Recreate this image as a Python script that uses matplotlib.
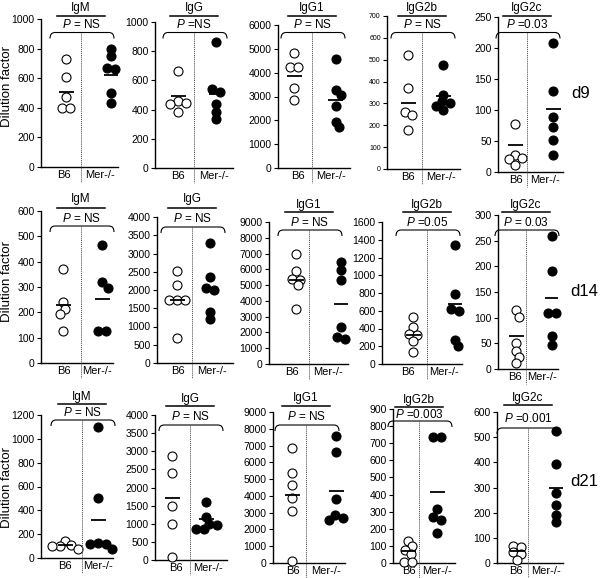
import numpy as np
import matplotlib
matplotlib.use("Agg")
import matplotlib.pyplot as plt
from matplotlib.path import Path
from matplotlib.patches import PathPatch
from matplotlib.lines import Line2D

plt.rcParams['font.family'] = ['Liberation Sans', 'DejaVu Sans']
plt.rcParams['mathtext.fontset'] = 'custom'
plt.rcParams['mathtext.it'] = 'Liberation Sans:italic'
plt.rcParams['mathtext.rm'] = 'Liberation Sans'

# ---------------- data ----------------
groups = ["B6", "Mer-/-"]
antibodies = ["IgM", "IgG", "IgG1", "IgG2b", "IgG2c"]
days = ["d9", "d14", "d21"]
ylabel = "Dilution factor"

d9_b6 = [[730, 610, 470, 400, 400],
         [664, 460, 445, 440, 386],
         [4830, 4250, 4250, 3350, 2850],
         [520, 370, 260, 245, 180],
         [78, 28, 22, 21, 12]]
d9_mer = [[800, 750, 670, 660, 500, 430],
          [864, 539, 523, 436, 386, 334],
          [4570, 3260, 3050, 2600, 1950, 1700],
          [475, 340, 310, 300, 290, 270],
          [208, 130, 88, 72, 52, 28]]
d9_mean_b6 = [510, 490, 3850, 300, 43]
d9_mean_mer = [620, 505, 2860, 335, 102]
d9_p = ["= NS", "=NS", "= NS", "= NS", "=0.03"]
d9_ymax = [1000, 1000, 6000, 700, 250]
d9_ystep = [200, 200, 1000, 100, 50]

d14_b6 = [[372, 240, 215, 195, 125],
          [2520, 2130, 1720, 1720, 1720, 680],
          [6950, 5900, 5400, 5350, 5000, 3500],
          [526, 413, 338, 323, 256, 135],
          [114, 102, 50, 36, 24, 12]]
d14_mer = [[465, 318, 298, 125, 125],
           [3300, 2360, 2045, 2000, 1410, 1200],
           [6460, 5975, 5300, 2330, 1740, 1570],
           [1338, 789, 624, 594, 267, 199],
           [260, 190, 110, 110, 65, 47]]
d14_mean_b6 = [229, 1727, 5340, 323, 65]
d14_mean_mer = [253, 2045, 3810, 676, 138]
d14_p = ["= NS", "= NS", "= NS", "=0.05", "= 0.03"]
d14_ymax = [600, 4000, 9000, 1600, 300]
d14_ystep = [100, 500, 1000, 200, 50]

d21_b6 = [[145, 105, 100, 100, 75],
          [2869, 2409, 1490, 993, 92],
          [6845, 5350, 4650, 3850, 3110, 100],
          [130, 100, 78, 55, 8, 8],
          [68, 64, 44, 35, 10]]
d21_mer = [[1100, 503, 125, 120, 120, 78],
           [1610, 1200, 1000, 970, 860, 860],
           [7580, 6600, 3810, 2850, 2690, 2590],
           [736, 736, 313, 270, 254, 176],
           [525, 394, 279, 230, 190, 164]]
d21_mean_b6 = [106, 1720, 4050, 68, 48]
d21_mean_mer = [321, 1120, 4310, 413, 299]
d21_p = ["= NS", "= NS", "= NS", "=0.003", "=0.001"]
d21_ymax = [1200, 4000, 9000, 900, 600]
d21_ystep = [200, 500, 1000, 100, 100]

rows = [
    (d9_b6, d9_mer, d9_mean_b6, d9_mean_mer, d9_p, d9_ymax, d9_ystep),
    (d14_b6, d14_mer, d14_mean_b6, d14_mean_mer, d14_p, d14_ymax, d14_ystep),
    (d21_b6, d21_mer, d21_mean_b6, d21_mean_mer, d21_p, d21_ymax, d21_ystep),
]

# ---------------- layout (pixels, origin top-left) ----------------
W, H = 600, 578
# L, R, top, bottom, divider, B6 center, Mer center
geom = [
    [(41, 118, 19, 167, 81, 66, 111), (155, 233, 22, 168, 194, 178, 216),
     (278, 350, 25, 168, 312, 294, 336), (387, 460, 16, 169, 422, 408, 443),
     (498, 563, 17, 172, 527, 515, 553)],
    [(41, 113, 211, 363, 81, 63, 102), (157, 233, 217, 363, 192, 177, 210),
     (269, 348, 222, 364, 309, 296, 341), (382, 462, 222, 364, 427, 413, 455),
     (498, 558, 215, 369, 526, 516, 552)],
    [(41, 113, 415, 558, 82, 65, 98), (155, 227, 415, 560, 190, 172, 206),
     (273, 345, 412, 563, 306, 292, 336), (393, 455, 409, 563, 419, 408, 437),
     (497, 563, 412, 563, 528, 517, 556)],
]
# title, title line, P text, bracket (y pixels)
heads = [
    [(8, 15.5, 25, 32.5)] * 5,
    [(199, 208, 218, 226), (199, 208, 218, 227), (205, 212, 222, 230),
     (205, 212, 222, 230), (205, 212, 222, 230)],
    [(397, 404, 412, 420), (399, 406, 416, 425), (398, 406, 417, 425),
     (400, 407, 415, 421), (398, 405, 418, 428)],
]
tick_fs = [[7.5, 7.5, 7.5, 5, 7.5], [7.5, 7.5, 7.5, 7.5, 7.5], [7.5, 7.5, 7.5, 7.5, 7.5]]
day_pos = [(581, 93), (584, 292), (584, 482)]
ylab_pos = [86, 282, 488]

fig = plt.figure(figsize=(W / 100, H / 100), dpi=100)


def fx(px):
    return px / W


def fy(py):
    return 1 - py / H


def swarm(ypx, dx=8.0, dy=6.5):
    placed = []
    offs = []
    for y in ypx:
        best = None
        k = 0
        while best is None:
            cands = [0.0] if k == 0 else [k * 0.5, -k * 0.5]
            for s in cands:
                if all(((s - px) / dx) ** 2 + ((y - py) / dy) ** 2 >= 1 for px, py in placed):
                    best = s
                    break
            k += 1
        placed.append((best, y))
        offs.append(best)
    # centre each horizontal row of points (points at nearly the same height)
    offs = np.array(offs, dtype=float)
    ys = np.array(ypx, dtype=float)
    order = np.argsort(ys)
    rows_ = [[order[0]]]
    for i in order[1:]:
        if ys[i] - ys[rows_[-1][-1]] < 4:
            rows_[-1].append(i)
        else:
            rows_.append([i])
    for rw in rows_:
        if len(rw) > 1:
            shift = (offs[rw].min() + offs[rw].max()) / 2
            offs[rw] -= shift
    return offs


for r, (b6, mer, mb6, mmer, pv, ymax, ystep) in enumerate(rows):
    for c in range(5):
        L, R, T, B, D, p0, p1 = geom[r][c]
        ax = fig.add_axes([fx(L), fy(B), (R - L) / W, (B - T) / H])
        ax.set_xlim(0, R - L)
        ax.set_ylim(0, ymax[c])
        for s in ("top", "right"):
            ax.spines[s].set_visible(False)
        for s in ("left", "bottom"):
            ax.spines[s].set_linewidth(1.0)
        ax.set_yticks(np.arange(0, ymax[c] + 1, ystep[c]))
        ax.tick_params(axis="y", direction="out", length=3, width=0.8,
                       labelsize=tick_fs[r][c], pad=1.5)
        ax.set_xticks([(L + D) / 2 + 3 - L, (D + R) / 2 - L], groups)
        ax.tick_params(axis="x", length=0, labelsize=8, pad=2)
        ppu = (B - T) / ymax[c]
        for vals, pc, filled, mval in ((b6[c], p0, False, mb6[c]), (mer[c], p1, True, mmer[c])):
            offs = swarm([v * ppu for v in vals])
            xs = [pc - L + o for o in offs]
            ax.scatter(xs, vals, s=42, facecolor="black" if filled else "white",
                       edgecolor="black", linewidth=0.8, zorder=3, clip_on=False)
            ax.plot([pc - L - 7.5, pc - L + 7.5], [mval, mval], color="black",
                    lw=1.3, zorder=4, solid_capstyle="butt")
        ty, ly, py_, by = heads[r][c]
        fig.text(fx(D), fy(ty), antibodies[c], ha="center", va="center", fontsize=8.5)
        fig.add_artist(Line2D([fx(D - 24), fx(D + 24)], [fy(ly), fy(ly)],
                              color="black", lw=1.1))
        fig.text(fx(D), fy(py_), "$P$ " + pv[c], ha="center", va="center", fontsize=8.5)
        x0, x1 = D - 31, D + 33
        verts = [(fx(x0), fy(by + 6)), (fx(x0), fy(by)), (fx(x0 + 5), fy(by)),
                 (fx(x1 - 5), fy(by)),
                 (fx(x1 - 5), fy(by)), (fx(x1), fy(by)), (fx(x1), fy(by + 6))]
        codes = [Path.MOVETO, Path.CURVE3, Path.CURVE3, Path.LINETO,
                 Path.MOVETO, Path.CURVE3, Path.CURVE3]
        fig.add_artist(PathPatch(Path(verts, codes), fill=False, lw=0.8,
                                 edgecolor="black", transform=fig.transFigure))
        fig.add_artist(Line2D([fx(D), fx(D)], [fy(by), fy(B + 15)],
                              color="#444444", lw=0.7, linestyle=(0, (1, 1))))

    fig.text(fx(day_pos[r][0]), fy(day_pos[r][1]), days[r], ha="center",
             va="center", fontsize=12)
    fig.text(fx(7), fy(ylab_pos[r]), ylabel, ha="center", va="center",
             rotation=90, fontsize=9.5)

fig.savefig("out.png", dpi=100, facecolor="white")
